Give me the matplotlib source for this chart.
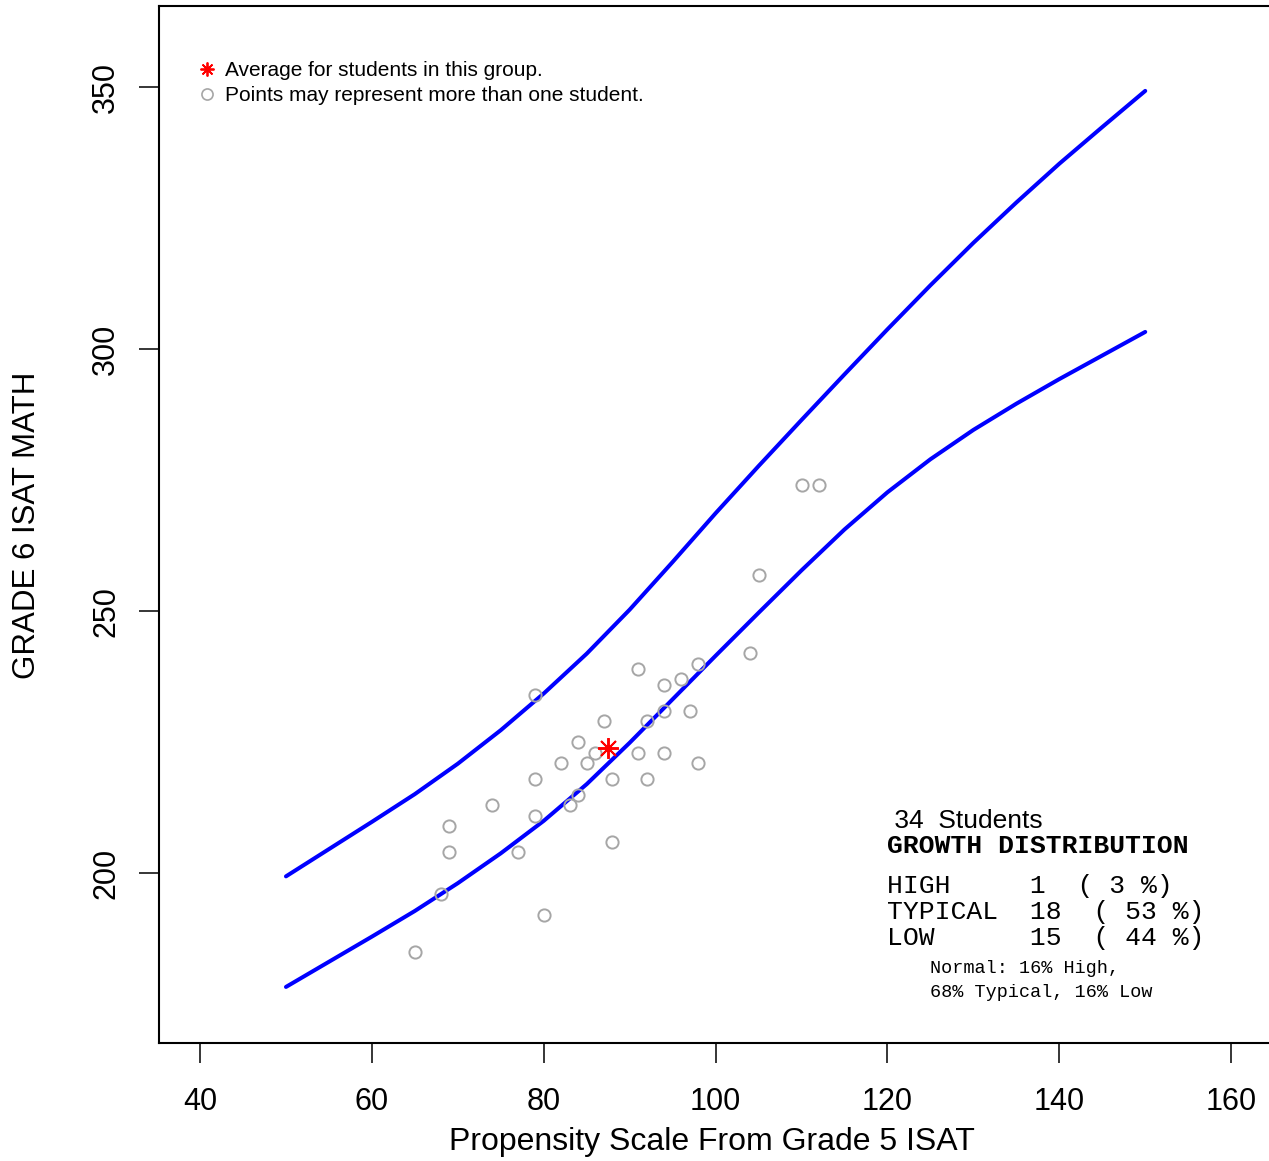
import numpy as np
import matplotlib
matplotlib.use("Agg")
import matplotlib.pyplot as plt
from matplotlib.lines import Line2D

plt.rcParams['font.family'] = ['Liberation Sans', 'DejaVu Sans']

# student points (grade 5 propensity, grade 6 score)
prop_x = [79, 91, 94, 96, 98, 104, 94, 97, 92, 87, 84, 86, 82, 85, 91, 94, 98,
          79, 88, 92, 84, 83, 74, 79, 69, 69, 77, 88, 68, 80, 65, 110, 112, 105]
score_y = [234, 239, 236, 237, 240, 242, 231, 231, 229, 229, 225, 223, 221, 221, 223, 223, 221,
           218, 218, 218, 215, 213, 213, 211, 209, 204, 204, 206, 196, 192, 185, 274, 274, 257]

# typical growth band
band_x = [50, 55, 60, 65, 70, 75, 80, 85, 90, 95, 100, 105, 110, 115, 120, 125, 130, 135, 140, 145, 150]
band_upper = [199.4, 204.6, 209.8, 215.1, 220.9, 227.3, 234.3, 241.9, 250.3, 259.4, 268.7,
              277.7, 286.5, 295.2, 303.8, 312.2, 320.3, 328.0, 335.4, 342.4, 349.3]
band_lower = [178.3, 183.1, 187.9, 192.8, 198.1, 203.8, 210.0, 217.0, 224.9, 233.2, 241.5,
              249.7, 257.8, 265.6, 272.7, 279.0, 284.6, 289.6, 294.3, 298.8, 303.3]

growth_labels = ['HIGH', 'TYPICAL', 'LOW']
growth_counts = [1, 18, 15]
growth_pcts = [3, 53, 44]

x_ticks = [40, 60, 80, 100, 120, 140, 160]
y_ticks = [200, 250, 300, 350]

W, H = 1269, 1161
fig = plt.figure(figsize=(W / 100, H / 100), dpi=100)
ax = fig.add_axes([158.8 / W, 118 / H, (1272.4 - 158.8) / W, 1037 / H])
ax.set_xlim(35.2, 164.8)
ax.set_ylim(167.6, 365.5)

for s in ax.spines.values():
    s.set_linewidth(1.5)

ax.plot(band_x, band_upper, color='#0000ff', lw=2.9, solid_capstyle='round', solid_joinstyle='round')
ax.plot(band_x, band_lower, color='#0000ff', lw=2.9, solid_capstyle='round', solid_joinstyle='round')
ax.plot(prop_x, score_y, 'o', mfc='none', mec='#a6a6a6', ms=8.8, mew=1.4, ls='none')
ax.plot(np.mean(prop_x), np.mean(score_y), marker=(8, 2, 0), color='red', ms=15, mew=1.4, ls='none')

ax.set_xticks(x_ticks)
ax.set_yticks(y_ticks)
ax.set_yticklabels([str(v) for v in y_ticks], rotation=90, va='center')
ax.tick_params(axis='both', length=14.4, width=1.1, labelsize=22)
ax.tick_params(axis='x', pad=17)
ax.tick_params(axis='y', pad=12.6)

fig.text(712 / W, 1 - 1142 / H, 'Propensity Scale From Grade 5 ISAT', ha='center', va='center', fontsize=23)
fig.text(27 / W, 1 - 525 / H, 'GRADE 6 ISAT MATH', ha='center', va='center', rotation=90, fontsize=22.5)

handles = [
    Line2D([], [], marker=(8, 2, 0), color='red', ls='none', ms=10, mew=1.3),
    Line2D([], [], marker='o', mfc='none', mec='#a6a6a6', ls='none', ms=8, mew=1.2),
]
ax.legend(handles, ['Average for students in this group.', 'Points may represent more than one student.'],
          loc='upper left', bbox_to_anchor=(197 / W, 1 - 61 / H), bbox_transform=fig.transFigure,
          frameon=False, fontsize=15, handlelength=0.95, handletextpad=0.4, labelspacing=0.3,
          borderpad=0, borderaxespad=0)

# growth summary block
mono = 'Liberation Mono'
fig.text(887 / W, 1 - 828 / H, f' {len(prop_x)}  Students', fontsize=19, va='baseline')
fig.text(887 / W, 1 - 853 / H, 'GROWTH DISTRIBUTION', family=mono, fontweight='bold', fontsize=19, va='baseline')
for i, (lab, cnt, pct) in enumerate(zip(growth_labels, growth_counts, growth_pcts)):
    line = f'{lab:<9}{cnt}  ( {pct} %)'
    fig.text(887 / W, 1 - (893 + 26 * i) / H, line, family=mono, fontsize=19, va='baseline')
fig.text(930 / W, 1 - 973 / H, 'Normal: 16% High,', family=mono, fontsize=13.3, va='baseline')
fig.text(930 / W, 1 - 997 / H, '68% Typical, 16% Low', family=mono, fontsize=13.3, va='baseline')

fig.savefig('out.png', dpi=100)
